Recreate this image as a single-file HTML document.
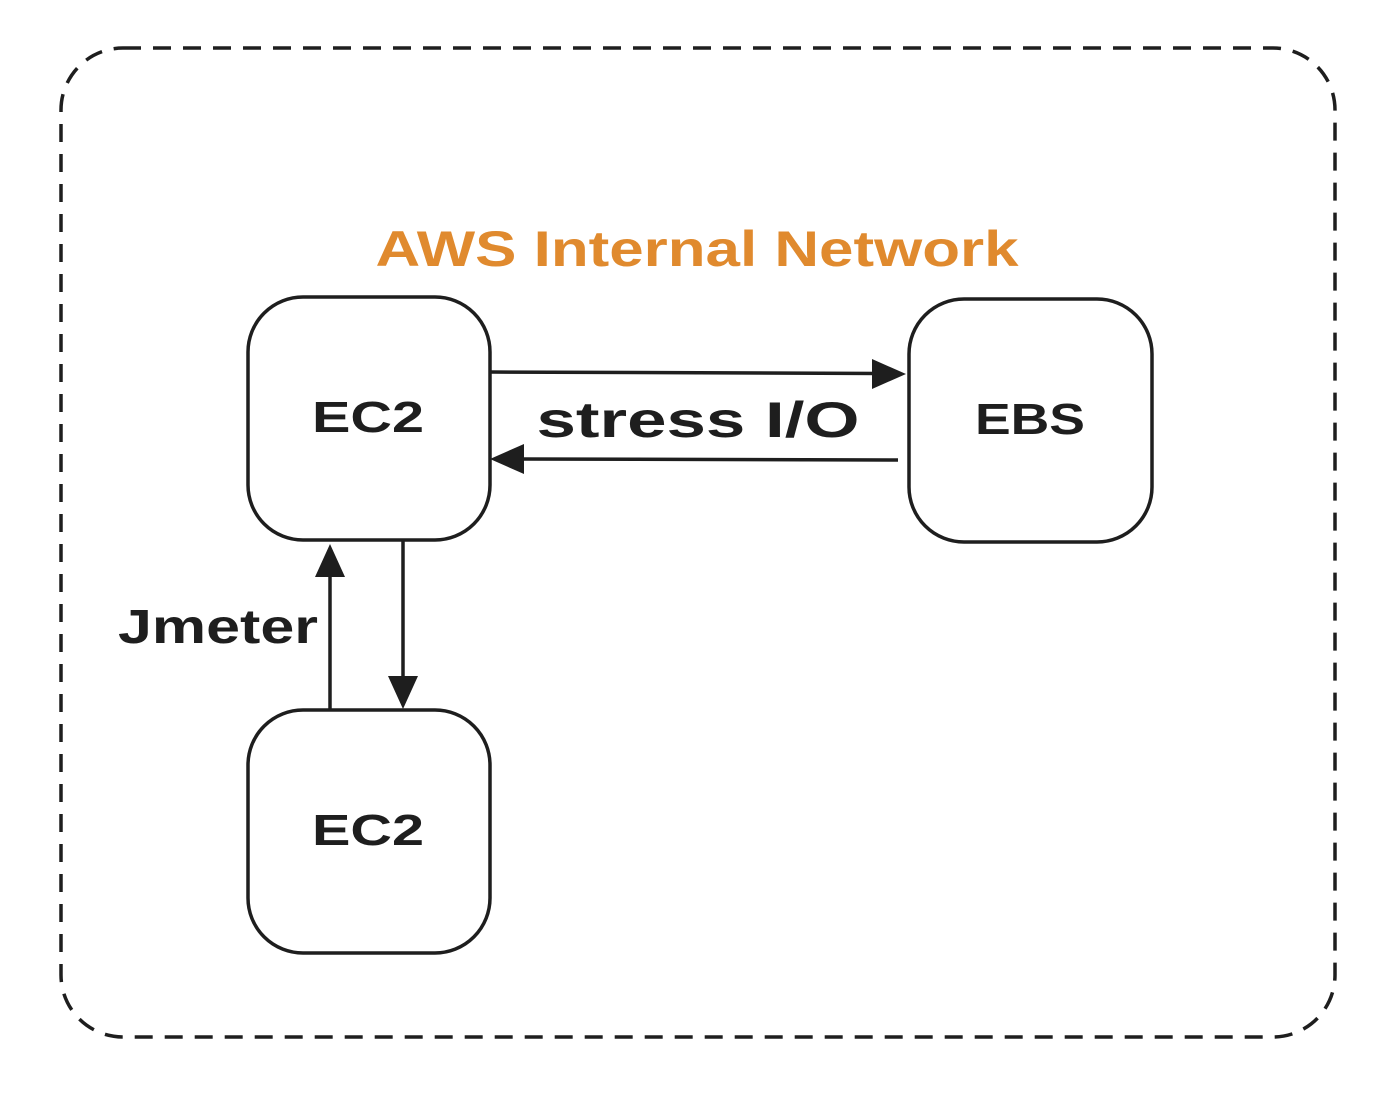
<!DOCTYPE html>
<html><head><meta charset="utf-8"><style>html,body{margin:0;padding:0;background:#fff}</style></head>
<body>
<svg width="1396" height="1088" viewBox="0 0 1396 1088" xmlns="http://www.w3.org/2000/svg">
<rect x="61" y="48" width="1274" height="989" rx="62" ry="62" fill="none" stroke="#1e1e1e" stroke-width="3.5" stroke-dasharray="18 12"/>
<g fill="none" stroke="#1e1e1e" stroke-width="3.5">
<rect x="248" y="297" width="242" height="243" rx="55"/>
<rect x="909" y="299" width="243" height="243" rx="55"/>
<rect x="248" y="710" width="242" height="243" rx="55"/>
<line x1="490" y1="372" x2="880" y2="373.5"/>
<line x1="898" y1="460" x2="520" y2="459"/>
<line x1="403" y1="541" x2="403" y2="680"/>
<line x1="330" y1="710" x2="330" y2="575"/>
</g>
<g fill="#1e1e1e">
<polygon points="906,374 872,359 872,389"/>
<polygon points="490,459 524,444 524,474"/>
<polygon points="403,709 388,676 418,676"/>
<polygon points="330,544 315,577 345,577"/>
</g>
<g font-family="Liberation Sans, sans-serif" fill="#1e1e1e" font-weight="bold">
<text x="697" y="266" font-size="50" fill="#e08a2e" font-weight="600" text-anchor="middle" textLength="643" lengthAdjust="spacingAndGlyphs">AWS Internal Network</text>
<text x="368" y="432" font-size="44" text-anchor="middle" textLength="112" lengthAdjust="spacingAndGlyphs">EC2</text>
<text x="1030" y="434" font-size="44" text-anchor="middle" textLength="110" lengthAdjust="spacingAndGlyphs">EBS</text>
<text x="368" y="845" font-size="44" text-anchor="middle" textLength="112" lengthAdjust="spacingAndGlyphs">EC2</text>
<text x="698" y="437" font-size="50" text-anchor="middle" textLength="323" lengthAdjust="spacingAndGlyphs">stress I/O</text>
<text x="218" y="643" font-size="48" text-anchor="middle" textLength="200" lengthAdjust="spacingAndGlyphs">Jmeter</text>
</g>
</svg>
</body></html>
